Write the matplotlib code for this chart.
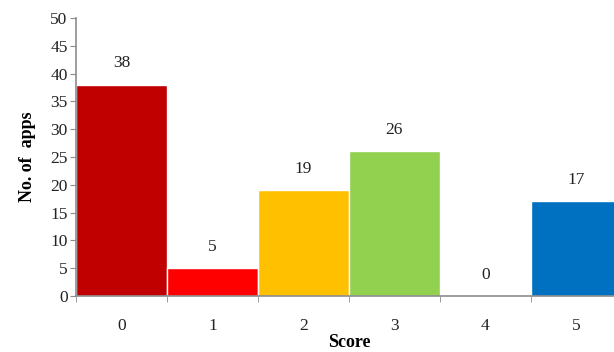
import matplotlib
matplotlib.use('Agg')
import matplotlib.pyplot as plt
import numpy as np

# Data
scores = ['0', '1', '2', '3', '4', '5']
n_apps = [38, 5, 19, 26, 0, 17]
bar_colors = ['#C00000', '#FF0000', '#FFC000', '#92D050', '#92D050', '#0070C0']

plt.rcParams['font.family'] = ['Liberation Serif', 'DejaVu Serif']

fig = plt.figure(figsize=(6.14, 3.52), dpi=100)
# axes run slightly past the right edge of the figure
ax = fig.add_axes([0.1238, 0.159, 0.889, 0.790])

x = np.arange(len(scores))
ax.bar(x, n_apps, width=1.0, color=bar_colors, edgecolor='white', linewidth=1.0)

for xi, v in zip(x, n_apps):
    ax.text(xi, v + 2.4, str(v), ha='center', va='bottom', fontsize=12.5, color='#222222')

ax.set_xlim(-0.5, len(scores) - 0.5)
ax.set_ylim(0, 50)
ax.set_yticks(range(0, 51, 5))
ax.set_xticks(x)
ax.set_xticklabels(scores)
ax.set_xticks(np.arange(-0.5, len(scores), 1.0), minor=True)

gray = '#8C8C8C'
for side in ['top', 'right']:
    ax.spines[side].set_visible(False)
for side in ['left', 'bottom']:
    ax.spines[side].set_color(gray)
    ax.spines[side].set_linewidth(1.2)

ax.tick_params(axis='x', which='major', length=0, labelsize=12.5, pad=16, labelcolor='#222222')
ax.tick_params(axis='x', which='minor', length=4, color=gray, direction='out')
ax.tick_params(axis='y', length=4, color=gray, labelsize=12.5, labelcolor='#222222', pad=2)

ax.set_xlabel('Score', fontsize=13, fontweight='bold', labelpad=0)
ax.set_ylabel('No. of  apps', fontsize=13, fontweight='bold', labelpad=10)

fig.savefig('out.png', dpi=100)
